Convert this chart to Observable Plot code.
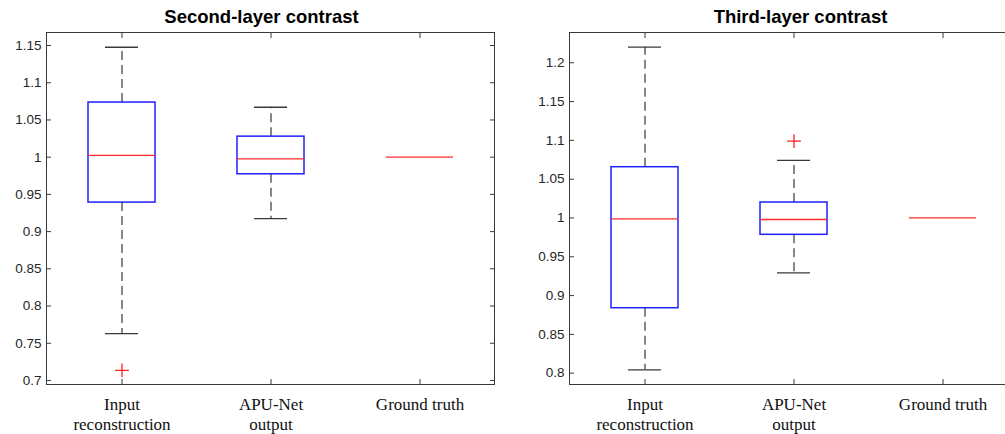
<!DOCTYPE html>
<html><head><meta charset="utf-8">
<script src="https://cdn.jsdelivr.net/npm/d3@7"></script>
<script src="https://cdn.jsdelivr.net/npm/@observablehq/plot@0.6"></script>
<style>
html,body{margin:0;padding:0;background:#fff;overflow:hidden;width:1005px;height:434px;}
#wrap{position:relative;width:1005px;height:434px;overflow:hidden;background:#fff;}
#wrap > svg{position:absolute;top:0;}
</style></head><body><div id="wrap"></div>
<script>
const categories = ["Input reconstruction", "APU-Net output", "Ground truth"];
const categoryLabels = ["Input\nreconstruction", "APU-Net\noutput", "Ground truth"];
const titles = ["Second-layer contrast", "Third-layer contrast"];

// Second-layer contrast (box statistics per category)
const secondLower  = [0.763, 0.9175, 1.0];
const secondQ1     = [0.939, 0.977, 1.0];
const secondMedian = [1.0025, 0.9977, 1.0];
const secondQ3     = [1.0734, 1.0276, 1.0];
const secondUpper  = [1.1477, 1.0671, 1.0];
const secondOutlierCats = ["Input reconstruction"];
const secondOutlierVals = [0.7136];
const secondTicks = [0.7, 0.75, 0.8, 0.85, 0.9, 0.95, 1, 1.05, 1.1, 1.15];
const secondDomain = [0.6946, 1.1675];

// Third-layer contrast
const thirdLower  = [0.8043, 0.9293, 1.0];
const thirdQ1     = [0.8837, 0.9783, 1.0];
const thirdMedian = [0.9989, 0.998, 1.0];
const thirdQ3     = [1.0654, 1.0199, 1.0];
const thirdUpper  = [1.2201, 1.0741, 1.0];
const thirdOutlierCats = ["APU-Net output"];
const thirdOutlierVals = [1.099];
const thirdTicks = [0.8, 0.85, 0.9, 0.95, 1, 1.05, 1.1, 1.15, 1.2];
const thirdDomain = [0.7854, 1.239];

const fmt = d => String(+d.toFixed(2));
const sans = "Liberation Sans, Arial, sans-serif";
const serif = "Liberation Serif, Times New Roman, serif";

function panel({title, lower, q1, median, q3, upper, oc, ov, ticks, domain, left, width, marginLeft, titleDx}) {
  const rows = categories.map((c, i) => ({cat: c, lower: lower[i], q1: q1[i], median: median[i], q3: q3[i], upper: upper[i]}));
  const outs = oc.map((c, i) => ({cat: c, v: ov[i]}));
  const hasUpper = d => d.upper > d.q3;
  const hasLower = d => d.lower < d.q1;
  const hasBox = d => d.q3 > d.q1;
  const svg = Plot.plot({
    width, height: 434,
    marginLeft, marginRight: 6, marginTop: 32, marginBottom: 50,
    style: {background: "#fff", overflow: "visible"},
    x: {type: "band", domain: categories, padding: 0, label: null},
    y: {domain, label: null},
    marks: [
      Plot.ruleX(rows, {filter: hasUpper, x: "cat", y1: "q3", y2: "upper", stroke: "#474747", strokeWidth: 1.3, strokeDasharray: "9,5"}),
      Plot.ruleX(rows, {filter: hasLower, x: "cat", y1: "q1", y2: "lower", stroke: "#474747", strokeWidth: 1.3, strokeDasharray: "9,5"}),
      Plot.tickY(rows, {filter: hasUpper, x: "cat", y: "upper", insetLeft: 58, insetRight: 58, stroke: "#3a3a3a", strokeWidth: 1.3}),
      Plot.tickY(rows, {filter: hasLower, x: "cat", y: "lower", insetLeft: 58, insetRight: 58, stroke: "#3a3a3a", strokeWidth: 1.3}),
      Plot.barY(rows, {filter: hasBox, x: "cat", y1: "q1", y2: "q3", fill: "none", stroke: "#2020ff", strokeWidth: 1.5, insetLeft: 41, insetRight: 41}),
      Plot.tickY(rows, {x: "cat", y: "median", insetLeft: 41, insetRight: 41, stroke: "#ff2a2a", strokeWidth: 1.3}),
      Plot.dot(outs, {x: "cat", y: "v", symbol: "plus", stroke: "#ff2020", r: 4.5, strokeWidth: 1.3}),
      Plot.frame({stroke: "#3a3a3a"}),
      Plot.axisY({anchor: "left", ticks, tickSize: 0, tickPadding: 5, tickFormat: fmt, fontFamily: sans, fontSize: 13.5, fill: "#262626"}),
      Plot.axisY({anchor: "left", ticks, tickSize: -5, tickFormat: () => "", stroke: "#3a3a3a"}),
      Plot.axisY({anchor: "right", ticks, tickSize: -5, tickFormat: () => "", stroke: "#3a3a3a"}),
      Plot.axisX({anchor: "bottom", tickSize: 0, tickPadding: 11, tickFormat: d => categoryLabels[categories.indexOf(d)], fontFamily: serif, fontSize: 17, lineHeight: 1.18, fill: "#111"}),
      Plot.axisX({anchor: "bottom", tickSize: -5, tickFormat: () => "", stroke: "#3a3a3a"}),
      Plot.axisX({anchor: "top", tickSize: -5, tickFormat: () => "", stroke: "#3a3a3a"}),
      Plot.text([title], {frameAnchor: "top", lineAnchor: "middle", text: d => d, dy: -15.5, dx: titleDx, fontFamily: sans, fontWeight: "bold", fontSize: 18.5, fill: "#000"})
    ]
  });
  svg.style.left = left + "px";
  return svg;
}

const wrap = document.getElementById("wrap");
wrap.appendChild(panel({title: titles[0], lower: secondLower, q1: secondQ1, median: secondMedian, q3: secondQ3, upper: secondUpper,
  oc: secondOutlierCats, ov: secondOutlierVals, ticks: secondTicks, domain: secondDomain, left: 0, width: 500, marginLeft: 46, titleDx: -9}));
wrap.appendChild(panel({title: titles[1], lower: thirdLower, q1: thirdQ1, median: thirdMedian, q3: thirdQ3, upper: thirdUpper,
  oc: thirdOutlierCats, ov: thirdOutlierVals, ticks: thirdTicks, domain: thirdDomain, left: 505, width: 518, marginLeft: 64, titleDx: 7}));
</script>
</body></html>
